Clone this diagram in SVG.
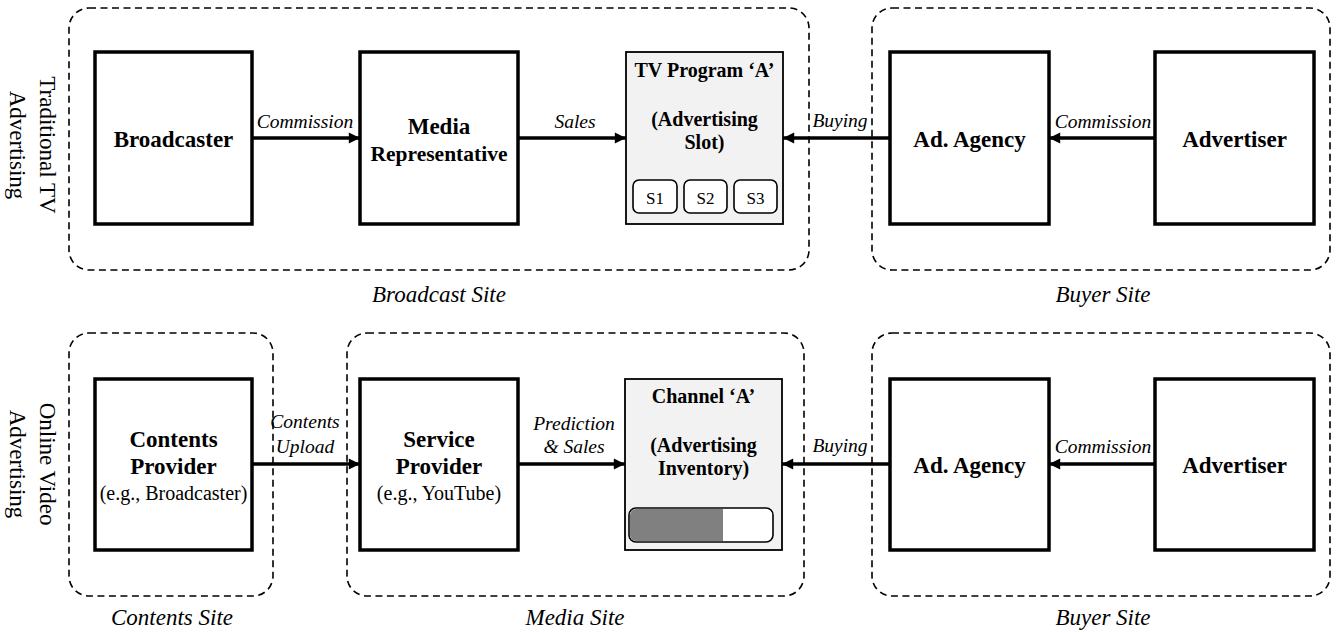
<svg xmlns="http://www.w3.org/2000/svg" width="1336" height="633" viewBox="0 0 1336 633">
  <style>
    text { font-family: "Liberation Serif", "Times New Roman", serif; fill: #000; }
    .site { fill: none; stroke: #000; stroke-width: 1.6; stroke-dasharray: 7 4.5; }
    .box { fill: #fff; stroke: #000; stroke-width: 3.5; }
    .grey { fill: #f2f2f2; stroke: #000; stroke-width: 1.8; }
    .slot { fill: #fff; stroke: #000; stroke-width: 1.6; }
    .name { font-size: 23px; font-weight: bold; text-anchor: middle; }
    .sub { font-size: 20px; text-anchor: middle; }
    .gname { font-size: 20px; font-weight: bold; text-anchor: middle; }
    .edge { font-size: 19.5px; font-style: italic; text-anchor: middle; }
    .sitelbl { font-size: 23px; font-style: italic; text-anchor: middle; }
    .side { font-size: 23px; text-anchor: middle; }
    .conn { fill: none; stroke: #000; stroke-width: 3.5; marker-end: url(#head); }
  </style>
  <defs>
    <marker id="head" viewBox="0 0 10 10" refX="10" refY="5" markerWidth="3.4" markerHeight="3.2" markerUnits="strokeWidth" orient="auto">
      <path d="M0,0 L10,5 L0,10 z" fill="#000"/>
    </marker>
  </defs>

  <!-- row titles -->
  <g id="row-labels">
    <text class="side" transform="translate(47,145) rotate(90)" dy="7">Traditional TV</text>
    <text class="side" transform="translate(17,145) rotate(90)" dy="7">Advertising</text>
    <text class="side" transform="translate(47,464) rotate(90)" dy="7">Online Video</text>
    <text class="side" transform="translate(17,464) rotate(90)" dy="7">Advertising</text>
  </g>

  <!-- dashed site regions -->
  <g id="sites">
    <rect class="site" x="69" y="8" width="740" height="262" rx="20"/>
    <rect class="site" x="872" y="8" width="458" height="262" rx="20"/>
    <rect class="site" x="69" y="333" width="204" height="263" rx="20"/>
    <rect class="site" x="347" y="333" width="457" height="263" rx="20"/>
    <rect class="site" x="872" y="333" width="458" height="263" rx="20"/>
    <text class="sitelbl" x="439" y="302">Broadcast Site</text>
    <text class="sitelbl" x="1103" y="302">Buyer Site</text>
    <text class="sitelbl" x="172" y="625">Contents Site</text>
    <text class="sitelbl" x="575" y="625">Media Site</text>
    <text class="sitelbl" x="1103" y="625">Buyer Site</text>
  </g>

  <!-- top row: traditional TV -->
  <g id="broadcaster">
    <rect class="box" x="95" y="52" width="157" height="172"/>
    <text class="name" x="173.5" y="147">Broadcaster</text>
  </g>
  <g id="media-representative">
    <rect class="box" x="360" y="52" width="158" height="172"/>
    <text class="name" x="439" y="134">Media</text>
    <text class="name" style="font-size:21.5px" x="439" y="161">Representative</text>
  </g>
  <g id="tv-program">
    <rect class="grey" x="626" y="52" width="157" height="172"/>
    <text class="gname" x="704.5" y="77">TV Program ‘A’</text>
    <text class="gname" x="704.5" y="126">(Advertising</text>
    <text class="gname" x="704.5" y="149">Slot)</text>
    <rect class="slot" x="633" y="180" width="44" height="33" rx="6"/>
    <rect class="slot" x="684" y="180" width="43" height="33" rx="6"/>
    <rect class="slot" x="734" y="180" width="43" height="33" rx="6"/>
    <text class="sub" style="font-size:17px" x="655" y="204">S1</text>
    <text class="sub" style="font-size:17px" x="705.5" y="204">S2</text>
    <text class="sub" style="font-size:17px" x="755.5" y="204">S3</text>
  </g>
  <g id="ad-agency-top">
    <rect class="box" x="890" y="52" width="159" height="172"/>
    <text class="name" x="969.5" y="147">Ad. Agency</text>
  </g>
  <g id="advertiser-top">
    <rect class="box" x="1155" y="52" width="159" height="172"/>
    <text class="name" x="1234.5" y="147">Advertiser</text>
  </g>

  <!-- bottom row: online video -->
  <g id="contents-provider">
    <rect class="box" x="95" y="379" width="157" height="171"/>
    <text class="name" x="173.5" y="447">Contents</text>
    <text class="name" x="173.5" y="474">Provider</text>
    <text class="sub" x="173.5" y="500">(e.g., Broadcaster)</text>
  </g>
  <g id="service-provider">
    <rect class="box" x="360" y="379" width="158" height="171"/>
    <text class="name" x="439" y="447">Service</text>
    <text class="name" x="439" y="474">Provider</text>
    <text class="sub" x="439" y="500">(e.g., YouTube)</text>
  </g>
  <g id="channel">
    <rect class="grey" x="625" y="379" width="157" height="171"/>
    <text class="gname" x="703.5" y="403">Channel ‘A’</text>
    <text class="gname" x="703.5" y="452">(Advertising</text>
    <text class="gname" x="703.5" y="475">Inventory)</text>
    <rect class="slot" x="629" y="508" width="144" height="34" rx="7"/>
    <path d="M636,509 H723 V541 H636 A6,6 0 0 1 630,535 V515 A6,6 0 0 1 636,509 z" fill="#808080"/>
  </g>
  <g id="ad-agency-bottom">
    <rect class="box" x="890" y="379" width="159" height="171"/>
    <text class="name" x="969.5" y="473">Ad. Agency</text>
  </g>
  <g id="advertiser-bottom">
    <rect class="box" x="1155" y="379" width="159" height="171"/>
    <text class="name" x="1234.5" y="473">Advertiser</text>
  </g>

  <!-- connectors -->
  <g id="connectors">
    <line class="conn" x1="252" y1="138" x2="360" y2="138"/>
    <line class="conn" x1="518" y1="138" x2="626" y2="138"/>
    <line class="conn" x1="890" y1="138" x2="783" y2="138"/>
    <line class="conn" x1="1155" y1="138" x2="1049" y2="138"/>
    <line class="conn" x1="252" y1="464" x2="360" y2="464"/>
    <line class="conn" x1="518" y1="464" x2="625" y2="464"/>
    <line class="conn" x1="890" y1="464" x2="782" y2="464"/>
    <line class="conn" x1="1155" y1="464" x2="1049" y2="464"/>
    <text class="edge" x="305" y="128">Commission</text>
    <text class="edge" x="575" y="128">Sales</text>
    <text class="edge" x="840" y="127">Buying</text>
    <text class="edge" x="1103" y="128">Commission</text>
    <text class="edge" x="305" y="428">Contents</text>
    <text class="edge" x="305" y="453">Upload</text>
    <text class="edge" x="574" y="430">Prediction</text>
    <text class="edge" x="574" y="453">&amp; Sales</text>
    <text class="edge" x="840" y="452">Buying</text>
    <text class="edge" x="1103" y="453">Commission</text>
  </g>
</svg>
